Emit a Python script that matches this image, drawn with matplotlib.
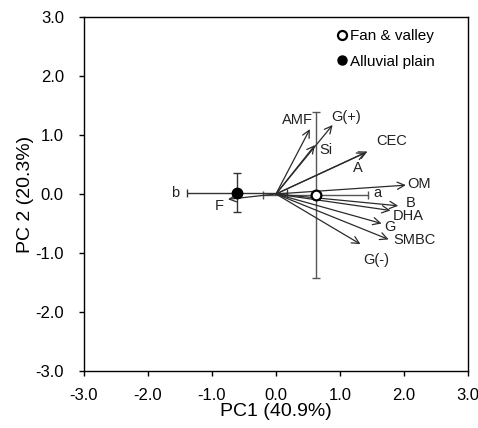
import matplotlib
matplotlib.use('Agg')
import matplotlib.pyplot as plt
from matplotlib.lines import Line2D

plt.rcParams['font.family'] = ['Liberation Sans', 'DejaVu Sans']

# loading vectors (tip coordinates)
var_names = ["AMF", "G(+)", "Si", "A", "CEC", "OM", "B", "DHA", "G", "SMBC", "G(-)", "F"]
var_x = [0.53, 0.885, 0.61, 1.40, 1.43, 2.03, 1.91, 1.79, 1.65, 1.76, 1.32, -0.75]
var_y = [1.10, 1.17, 0.83, 0.70, 0.72, 0.15, -0.20, -0.28, -0.50, -0.77, -0.85, -0.09]
# label anchor positions
lab_x = [0.58, 0.87, 0.68, 1.28, 1.56, 2.05, 2.03, 1.83, 1.69, 1.83, 1.36, -0.81]
lab_y = [1.25, 1.31, 0.75, 0.44, 0.89, 0.17, -0.16, -0.38, -0.56, -0.78, -1.12, -0.21]
lab_ha = ["right", "left", "left", "center", "left", "left", "left", "left", "left", "left", "left", "right"]

# group scores with error bars
groups = ["Fan & valley", "Alluvial plain"]
grp_x = [0.62, -0.61]
grp_y = [-0.02, 0.02]
grp_xerr = [0.82, 0.78]
grp_yerr = [1.41, 0.33]
grp_letters = ["a", "b"]

fig = plt.figure(figsize=(4.78, 4.28), dpi=100)
ax = fig.add_axes([0.1757, 0.1332, 0.8033, 0.8271])

# error bars
ax.errorbar(grp_x[0], grp_y[0], xerr=grp_xerr[0], yerr=grp_yerr[0], fmt='none',
            ecolor='#555555', elinewidth=1.0, capsize=3, capthick=1.0, zorder=2)
ax.errorbar(grp_x[1], grp_y[1], xerr=grp_xerr[1], yerr=grp_yerr[1], fmt='none',
            ecolor='#333333', elinewidth=1.0, capsize=3, capthick=1.0, zorder=2)

# vectors
for name, x, y, lx, ly, ha in zip(var_names, var_x, var_y, lab_x, lab_y, lab_ha):
    ax.annotate('', xy=(x, y), xytext=(0, 0),
                arrowprops=dict(arrowstyle='->', lw=0.9, color='#2b2b2b',
                                mutation_scale=13, shrinkA=0, shrinkB=0),
                zorder=3)
    ax.text(lx, ly, name, ha=ha, va='center', fontsize=10.5, color='#222222', zorder=4)

# group points
ax.plot(grp_x[0], grp_y[0], 'o', ms=7, mfc='white', mec='black', mew=1.6, zorder=5)
ax.plot(grp_x[1], grp_y[1], 'o', ms=7.5, mfc='black', mec='black', zorder=5)

# significance letters
ax.text(grp_x[0] + grp_xerr[0] + 0.08, grp_y[0] + 0.03, grp_letters[0], ha='left', va='center',
        fontsize=10.5, color='#222222')
ax.text(grp_x[1] - grp_xerr[1] - 0.12, grp_y[1], grp_letters[1], ha='right', va='center',
        fontsize=10.5, color='#222222')

ax.set_xlim(-3, 3)
ax.set_ylim(-3, 3)
ticks = [-3, -2, -1, 0, 1, 2, 3]
ax.set_xticks(ticks)
ax.set_yticks(ticks)
ax.set_xticklabels([f"{t:.1f}" for t in ticks])
ax.set_yticklabels([f"{t:.1f}" for t in ticks])
ax.tick_params(direction='out', length=3.5, width=1, labelsize=12, colors='black')
ax.tick_params(axis='x', pad=9)
ax.tick_params(axis='y', pad=11)

for s in ax.spines.values():
    s.set_linewidth(1.0)

ax.set_xlabel("PC1 (40.9%)", fontsize=14, labelpad=0)
ax.set_ylabel("PC 2 (20.3%)", fontsize=14, labelpad=1)

handles = [
    Line2D([], [], marker='o', ls='none', ms=6.5, mfc='white', mec='black', mew=1.6, label=groups[0]),
    Line2D([], [], marker='o', ls='none', ms=6.5, mfc='black', mec='black', label=groups[1]),
]
ax.legend(handles=handles, loc='upper right', bbox_to_anchor=(0.945, 1.0), frameon=False,
          fontsize=11, handletextpad=0.0, handlelength=1.0, labelspacing=0.75, borderpad=0.3)

plt.savefig("out.png", dpi=100)
plt.close()
